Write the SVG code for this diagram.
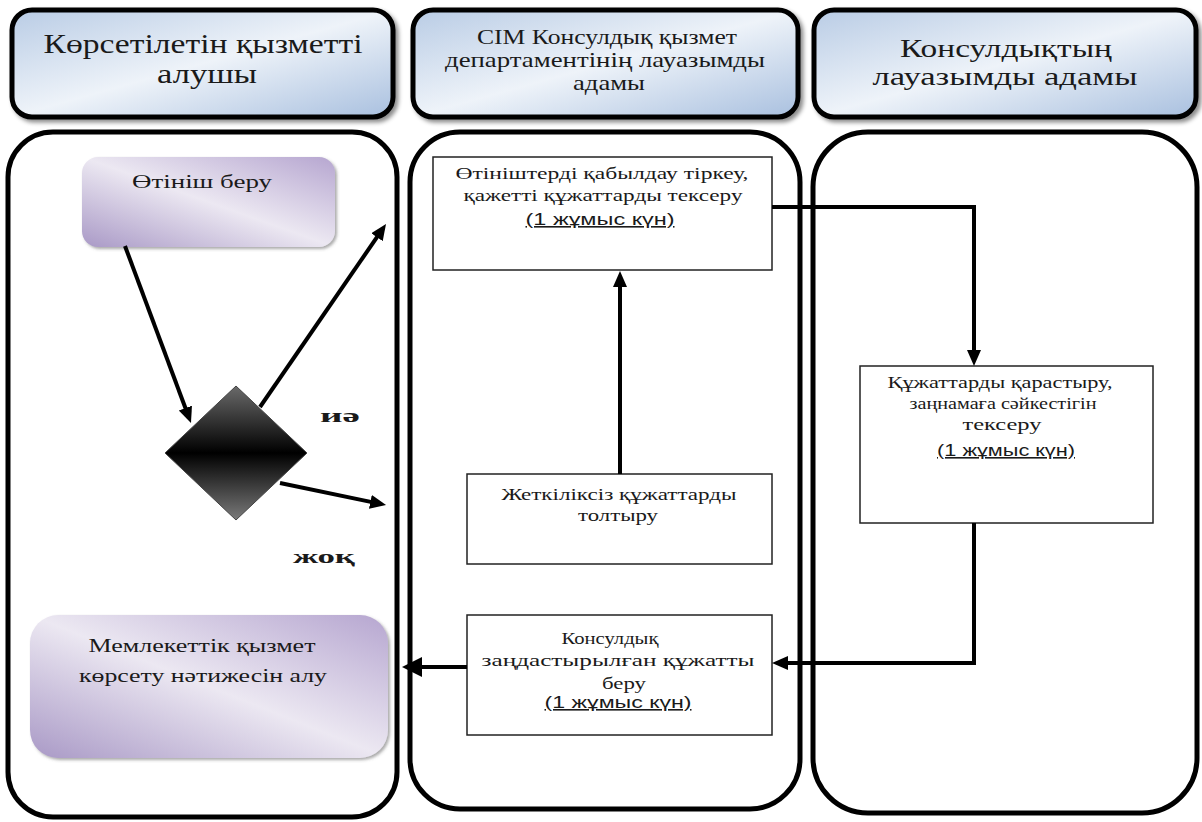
<svg xmlns="http://www.w3.org/2000/svg" width="1202" height="822" viewBox="0 0 1202 822">
<style>
  .lane{fill:#fff;stroke:#000;stroke-width:5}
  .hdr{fill:url(#hdr);stroke:#000;stroke-width:5;filter:url(#sh)}
  .box{fill:#fff;stroke:#222;stroke-width:1.5}
  .lav{fill:url(#lav);filter:url(#sh2)}
  .t{fill:#1a1a1a;text-anchor:middle}
  .u{text-decoration:underline}
  .c{fill:none;stroke:#000;stroke-width:4}
</style>
<defs>
  <linearGradient id="hdr" x1="0" y1="0" x2="1" y2="1">
    <stop offset="0" stop-color="#b9cce5"/>
    <stop offset="0.5" stop-color="#eef3f9"/>
    <stop offset="1" stop-color="#a9c0df"/>
  </linearGradient>
  <linearGradient id="lav" x1="0" y1="1" x2="1" y2="0">
    <stop offset="0" stop-color="#a999c6"/>
    <stop offset="0.5" stop-color="#ece8f2"/>
    <stop offset="1" stop-color="#b6a6d0"/>
  </linearGradient>
  <linearGradient id="dia" x1="0" y1="0" x2="0" y2="1">
    <stop offset="0" stop-color="#6a6a6a"/>
    <stop offset="0.5" stop-color="#000"/>
    <stop offset="1" stop-color="#7a7a7a"/>
  </linearGradient>
  <filter id="sh" x="-5%" y="-5%" width="115%" height="125%">
    <feDropShadow dx="3" dy="3" stdDeviation="2" flood-color="#000" flood-opacity="0.45"/>
  </filter>
  <filter id="sh2" x="-5%" y="-5%" width="115%" height="125%">
    <feDropShadow dx="2" dy="2" stdDeviation="1.5" flood-color="#555" flood-opacity="0.5"/>
  </filter>
  <marker id="ah" markerUnits="userSpaceOnUse" markerWidth="16" markerHeight="14" refX="4" refY="7" orient="auto">
    <path d="M0,0 L16,7 L0,14 z" fill="#000"/>
  </marker>
  <marker id="ahb" markerUnits="userSpaceOnUse" markerWidth="20" markerHeight="20" refX="4" refY="10" orient="auto">
    <path d="M0,0 L20,10 L0,20 z" fill="#000"/>
  </marker>
</defs>

<g id="lanes">
  <rect id="lane-left" class="lane" x="8" y="132" width="389" height="685" rx="45"/>
  <rect id="lane-mid" class="lane" x="410" y="132" width="390" height="677" rx="50"/>
  <rect id="lane-right" class="lane" x="813" y="132" width="384" height="681" rx="55"/>
</g>

<g id="hdr-left" font-family="Liberation Serif" font-size="28">
  <rect class="hdr" x="12" y="10" width="381" height="107" rx="20"/>
  <text class="t" x="203" y="53" textLength="319" lengthAdjust="spacingAndGlyphs">Көрсетілетін қызметті</text>
  <text class="t" x="207" y="83" textLength="100" lengthAdjust="spacingAndGlyphs">алушы</text>
</g>
<g id="hdr-mid" font-family="Liberation Serif" font-size="21">
  <rect class="hdr" x="413" y="10" width="385" height="107" rx="20"/>
  <text class="t" x="607" y="44" textLength="260" lengthAdjust="spacingAndGlyphs">СІМ Консулдық қызмет</text>
  <text class="t" x="605" y="67" textLength="320" lengthAdjust="spacingAndGlyphs">департаментінің лауазымды</text>
  <text class="t" x="609" y="90" textLength="72" lengthAdjust="spacingAndGlyphs">адамы</text>
</g>
<g id="hdr-right" font-family="Liberation Serif" font-size="26">
  <rect class="hdr" x="814" y="10" width="382" height="107" rx="20"/>
  <text class="t" x="1006" y="57" textLength="212" lengthAdjust="spacingAndGlyphs">Консулдықтың</text>
  <text class="t" x="1005" y="85" textLength="265" lengthAdjust="spacingAndGlyphs">лауазымды адамы</text>
</g>

<g id="n-start" font-family="Liberation Serif" font-size="19">
  <rect class="lav" x="82" y="157" width="253" height="90" rx="16"/>
  <text class="t" x="202" y="188" textLength="140" lengthAdjust="spacingAndGlyphs">Өтініш беру</text>
</g>
<g id="n-decision">
  <polygon points="165,453 236,386 307,453 236,520" fill="url(#dia)" stroke="#444" stroke-width="1"/>
</g>
<g id="lbl-yes" font-family="Liberation Serif" font-size="19" font-weight="bold">
  <text class="t" x="340" y="422" textLength="40" lengthAdjust="spacingAndGlyphs">иә</text>
</g>
<g id="lbl-no" font-family="Liberation Serif" font-size="19" font-weight="bold">
  <text class="t" x="324" y="563" textLength="62" lengthAdjust="spacingAndGlyphs">жоқ</text>
</g>
<g id="n-result" font-family="Liberation Serif" font-size="19">
  <rect class="lav" x="30" y="615" width="358" height="143" rx="28"/>
  <text class="t" x="202" y="652" textLength="227" lengthAdjust="spacingAndGlyphs">Мемлекеттік қызмет</text>
  <text class="t" x="203" y="682" textLength="248" lengthAdjust="spacingAndGlyphs">көрсету нәтижесін алу</text>
</g>

<g id="n-receive" font-family="Liberation Serif" font-size="17">
  <rect class="box" x="433" y="157" width="339" height="113"/>
  <text class="t" x="602" y="179" textLength="293" lengthAdjust="spacingAndGlyphs">Өтініштерді қабылдау  тіркеу,</text>
  <text class="t" x="603" y="201" textLength="279" lengthAdjust="spacingAndGlyphs">қажетті құжаттарды  тексеру</text>
  <text class="t u" font-family="Liberation Sans" font-size="16" x="600" y="225" textLength="149" lengthAdjust="spacingAndGlyphs"> (1 жұмыс күн)</text>
</g>
<g id="n-fill" font-family="Liberation Serif" font-size="17">
  <rect class="box" x="467" y="474" width="305" height="90"/>
  <text class="t" x="619" y="500" textLength="235" lengthAdjust="spacingAndGlyphs">Жеткіліксіз құжаттарды</text>
  <text class="t" x="618" y="521" textLength="80" lengthAdjust="spacingAndGlyphs">толтыру</text>
</g>
<g id="n-issue" font-family="Liberation Serif" font-size="17">
  <rect class="box" x="467" y="615" width="305" height="120"/>
  <text class="t" x="610" y="644" textLength="97" lengthAdjust="spacingAndGlyphs">Консулдық</text>
  <text class="t" x="618" y="666" textLength="273" lengthAdjust="spacingAndGlyphs">заңдастырылған құжатты</text>
  <text class="t" x="624" y="689" textLength="44" lengthAdjust="spacingAndGlyphs">беру</text>
  <text class="t u" font-family="Liberation Sans" font-size="16" x="618" y="708" textLength="147" lengthAdjust="spacingAndGlyphs"> (1 жұмыс күн)</text>
</g>
<g id="n-review" font-family="Liberation Serif" font-size="17">
  <rect class="box" x="860" y="366" width="293" height="157"/>
  <text class="t" x="1000" y="388" textLength="225" lengthAdjust="spacingAndGlyphs">Құжаттарды қарастыру,</text>
  <text class="t" x="1003" y="409" textLength="187" lengthAdjust="spacingAndGlyphs">заңнамаға сәйкестігін</text>
  <text class="t" x="1002" y="430" textLength="79" lengthAdjust="spacingAndGlyphs">тексеру</text>
  <text class="t u" font-family="Liberation Sans" font-size="16" x="1006" y="456" textLength="138" lengthAdjust="spacingAndGlyphs">(1 жұмыс күн)</text>
</g>

<g id="connectors">
  <path class="c" d="M125,246 L186.8,411.8" marker-end="url(#ah)"/>
  <path class="c" d="M260,407 L379.2,233.9" marker-end="url(#ah)"/>
  <path class="c" d="M280,483 L374.3,502.6" marker-end="url(#ah)"/>
  <path class="c" stroke-width="5" d="M620,474 L620,283" marker-end="url(#ah)"/>
  <path class="c" d="M772,207 H974 V354" marker-end="url(#ah)"/>
  <path class="c" d="M974,523 V663 H784" marker-end="url(#ah)"/>
  <path class="c" stroke-width="8" d="M467,667 H418" marker-end="url(#ahb)"/>
</g>
</svg>
